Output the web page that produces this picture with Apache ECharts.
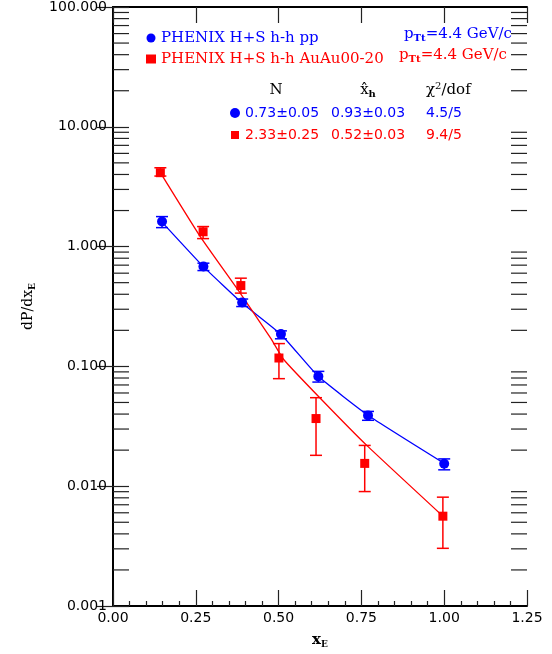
<!DOCTYPE html>
<html>
<head>
<meta charset="utf-8">
<script src="https://cdn.jsdelivr.net/npm/echarts@6/dist/echarts.min.js"></script>
<style>html,body{margin:0;padding:0;background:#fff;}#c{width:552px;height:654px;}</style>
</head>
<body>
<div id="c"></div>
<script>
// ---- data ----
var blueName = 'PHENIX H+S h-h pp';
var redName = 'PHENIX H+S h-h AuAu00-20';
var blueX = [0.148, 0.273, 0.39, 0.507, 0.62, 0.77, 1.0];
var blueY = [1.62, 0.681, 0.341, 0.186, 0.0825, 0.0390, 0.0154];
var blueLow = [1.44, 0.631, 0.316, 0.170, 0.0740, 0.0355, 0.0137];
var blueHigh = [1.78, 0.727, 0.365, 0.198, 0.0909, 0.0421, 0.0169];
var redX = [0.143, 0.272, 0.386, 0.501, 0.613, 0.76, 0.996];
var redY = [4.14, 1.33, 0.473, 0.1175, 0.0367, 0.0155, 0.00562];
var redLow = [3.88, 1.166, 0.409, 0.0790, 0.0181, 0.00902, 0.00303];
var redHigh = [4.55, 1.47, 0.545, 0.155, 0.0548, 0.0219, 0.00810];
var blueFitX = [0.148, 0.273, 0.39, 0.508, 0.62, 0.77, 1.0];
var blueFitY = [1.60, 0.68, 0.338, 0.184, 0.0826, 0.0391, 0.0155];
var redFitX = [0.143, 0.2635, 0.384, 0.476, 0.516, 0.625, 0.767, 0.996];
var redFitY = [4.14, 1.21, 0.409, 0.172, 0.1137, 0.0545, 0.0218, 0.00562];
var xTickLabels = ['0.00', '0.25', '0.50', '0.75', '1.00', '1.25'];
var yDecades = [0.001, 0.01, 0.1, 1, 10];
var yMinorMultipliers = [2, 3, 4, 5, 6, 7, 8, 9];
var tableHeader = ['N', 'x\u0302', 'h', '\u03c7', '2', '/dof'];
var blueFitParams = ['0.73\u00b10.05', '0.93\u00b10.03', '4.5/5'];
var redFitParams = ['2.33\u00b10.25', '0.52\u00b10.03', '9.4/5'];
var ptLabel = ['p', 'Tt', '=4.4 GeV/c'];

// ---- helpers ----
var BLUE = '#0000ff', RED = '#ff0000';
var SERIF = 'DejaVu Serif', SANS = 'DejaVu Sans';
function zip(a, b) { return a.map(function (v, i) { return [v, b[i]]; }); }
function errData(x, y, lo, hi) { return x.map(function (v, i) { return [v, y[i], lo[i], hi[i]]; }); }
var minorTicks = [];
yDecades.forEach(function (d) { yMinorMultipliers.forEach(function (m) { minorTicks.push([0, d * m]); }); });

function errRender(color) {
  return function (params, api) {
    var x = api.value(0);
    var pLo = api.coord([x, api.value(2)]);
    var pHi = api.coord([x, api.value(3)]);
    var hw = 6;
    var st = { stroke: color, lineWidth: 1.5 };
    return { type: 'group', children: [
      { type: 'line', shape: { x1: pLo[0], y1: pLo[1], x2: pHi[0], y2: pHi[1] }, style: st },
      { type: 'line', shape: { x1: pLo[0] - hw, y1: pLo[1], x2: pLo[0] + hw, y2: pLo[1] }, style: st },
      { type: 'line', shape: { x1: pHi[0] - hw, y1: pHi[1], x2: pHi[0] + hw, y2: pHi[1] }, style: st }
    ] };
  };
}
function minorRender(params, api) {
  var cs = params.coordSys;
  var y = api.coord([0, api.value(1)])[1];
  var st = { stroke: '#222', lineWidth: 1.2 };
  return { type: 'group', children: [
    { type: 'line', shape: { x1: cs.x, y1: y, x2: cs.x + 16, y2: y }, style: st },
    { type: 'line', shape: { x1: cs.x + cs.width - 16, y1: y, x2: cs.x + cs.width, y2: y }, style: st }
  ] };
}

function txt(x, y, rich, text, align) {
  return { type: 'text', x: x, y: y, z: 100, style: { text: text, rich: rich, align: align || 'left', verticalAlign: 'middle' } };
}
function serifRich(color) {
  return {
    m: { fontFamily: SERIF, fontSize: 15, fill: color, lineHeight: 18 },
    s: { fontFamily: SERIF, fontSize: 10, fontWeight: 'bold', fill: color, lineHeight: 10, verticalAlign: 'bottom' },
    u: { fontFamily: SERIF, fontSize: 10, fill: color, lineHeight: 10, verticalAlign: 'top' }
  };
}
function sansRich(color) {
  return { n: { fontFamily: SANS, fontSize: 14, fill: color, lineHeight: 18 } };
}

var chart = echarts.init(document.getElementById('c'), null, { renderer: 'canvas' });
var axisLineStyle = { color: '#000', width: 2 };
var tickStyle = { color: '#222', width: 1.2 };

chart.setOption({
  animation: false,
  backgroundColor: '#fff',
  grid: { left: 113, right: 25, top: 7, bottom: 47, containLabel: false },
  legend: {
    orient: 'vertical', left: 141, top: 25, itemWidth: 10, itemHeight: 9, itemGap: 5,
    selectedMode: false,
    textStyle: { fontFamily: SERIF, fontSize: 15, lineHeight: 16 },
    data: [
      { name: blueName, icon: 'circle', textStyle: { color: BLUE } },
      { name: redName, icon: 'rect', textStyle: { color: RED } }
    ]
  },
  xAxis: [{
    type: 'value', min: 0, max: 1.25, interval: 0.25, position: 'bottom',
    axisLine: { show: true, lineStyle: axisLineStyle },
    axisTick: { show: true, inside: true, length: 16, lineStyle: tickStyle },
    minorTick: { show: true, splitNumber: 5, length: 5, lineStyle: tickStyle },
    splitLine: { show: false },
    axisLabel: { margin: 5, color: '#000', fontFamily: SANS, fontSize: 14,
      formatter: function (v) { return xTickLabels[Math.round(v / 0.25)]; } },
    name: '{m|x}{s|E}', nameLocation: 'middle', nameGap: 25,
    nameTextStyle: { rich: {
      m: { fontFamily: SERIF, fontSize: 15, fontWeight: 'bold', color: '#000', lineHeight: 18 },
      s: { fontFamily: SERIF, fontSize: 9, fontWeight: 'bold', color: '#000', lineHeight: 10, verticalAlign: 'bottom' } } }
  }, {
    type: 'value', min: 0, max: 1.25, interval: 0.25, position: 'top',
    axisLine: { show: true, lineStyle: axisLineStyle },
    axisTick: { show: true, inside: true, length: 16, lineStyle: tickStyle },
    axisLabel: { show: false }, splitLine: { show: false }
  }],
  yAxis: [{
    type: 'log', logBase: 10, min: 0.001, max: 100, position: 'left',
    axisLine: { show: true, lineStyle: axisLineStyle },
    axisTick: { show: true, inside: true, length: 16, lineStyle: tickStyle },
    splitLine: { show: false },
    axisLabel: { margin: 6, color: '#000', fontFamily: SANS, fontSize: 14,
      formatter: function (v) { return Number(v).toFixed(3); } },
    name: '{m|dP/dx}{s|E}', nameLocation: 'middle', nameGap: 76, nameRotate: 90,
    nameTextStyle: { rich: {
      m: { fontFamily: SERIF, fontSize: 14, color: '#000', lineHeight: 18 },
      s: { fontFamily: SERIF, fontSize: 9, fontWeight: 'bold', color: '#000', lineHeight: 10, verticalAlign: 'bottom' } } }
  }, {
    type: 'log', logBase: 10, min: 0.001, max: 100, position: 'right',
    axisLine: { show: true, lineStyle: axisLineStyle },
    axisTick: { show: true, inside: true, length: 16, lineStyle: tickStyle },
    axisLabel: { show: false }, splitLine: { show: false }
  }],
  series: [
    { type: 'custom', name: 'minorTicks', renderItem: minorRender, data: minorTicks, clip: false, silent: true, z: 1 },
    { type: 'line', name: 'blueFit', data: zip(blueFitX, blueFitY), smooth: 0.15, showSymbol: false,
      lineStyle: { color: BLUE, width: 1.3 }, z: 2 },
    { type: 'line', name: 'redFit', data: zip(redFitX, redFitY), smooth: 0.15, showSymbol: false,
      lineStyle: { color: RED, width: 1.3 }, z: 2 },
    { type: 'custom', name: 'blueErr', renderItem: errRender(BLUE), data: errData(blueX, blueY, blueLow, blueHigh),
      encode: { x: 0, y: [2, 3] }, z: 3 },
    { type: 'custom', name: 'redErr', renderItem: errRender(RED), data: errData(redX, redY, redLow, redHigh),
      encode: { x: 0, y: [2, 3] }, z: 3 },
    { type: 'scatter', name: blueName, data: zip(blueX, blueY), symbol: 'circle', symbolSize: 10,
      itemStyle: { color: BLUE, opacity: 1 }, z: 4 },
    { type: 'scatter', name: redName, data: zip(redX, redY), symbol: 'rect', symbolSize: 9,
      itemStyle: { color: RED, opacity: 1 }, z: 4 }
  ],
  graphic: [
    txt(404, 34, serifRich(BLUE), '{m|' + ptLabel[0] + '}{s|' + ptLabel[1] + '}{m|' + ptLabel[2] + '}'),
    txt(399, 55, serifRich(RED), '{m|' + ptLabel[0] + '}{s|' + ptLabel[1] + '}{m|' + ptLabel[2] + '}'),
    txt(276, 90, serifRich('#000'), '{m|' + tableHeader[0] + '}', 'center'),
    txt(368, 90, serifRich('#000'), '{m|' + tableHeader[1] + '}{s|' + tableHeader[2] + '}', 'center'),
    txt(426, 90, serifRich('#000'), '{m|' + tableHeader[3] + '}{u|' + tableHeader[4] + '}{m|' + tableHeader[5] + '}'),
    { type: 'circle', shape: { cx: 235, cy: 113, r: 5 }, style: { fill: BLUE }, z: 100 },
    { type: 'rect', shape: { x: 231, y: 131, width: 8, height: 8 }, style: { fill: RED }, z: 100 },
    txt(245, 113, sansRich(BLUE), '{n|' + blueFitParams[0] + '}'),
    txt(331, 113, sansRich(BLUE), '{n|' + blueFitParams[1] + '}'),
    txt(426, 113, sansRich(BLUE), '{n|' + blueFitParams[2] + '}'),
    txt(245, 135, sansRich(RED), '{n|' + redFitParams[0] + '}'),
    txt(331, 135, sansRich(RED), '{n|' + redFitParams[1] + '}'),
    txt(426, 135, sansRich(RED), '{n|' + redFitParams[2] + '}')
  ]
});
</script>
</body>
</html>
